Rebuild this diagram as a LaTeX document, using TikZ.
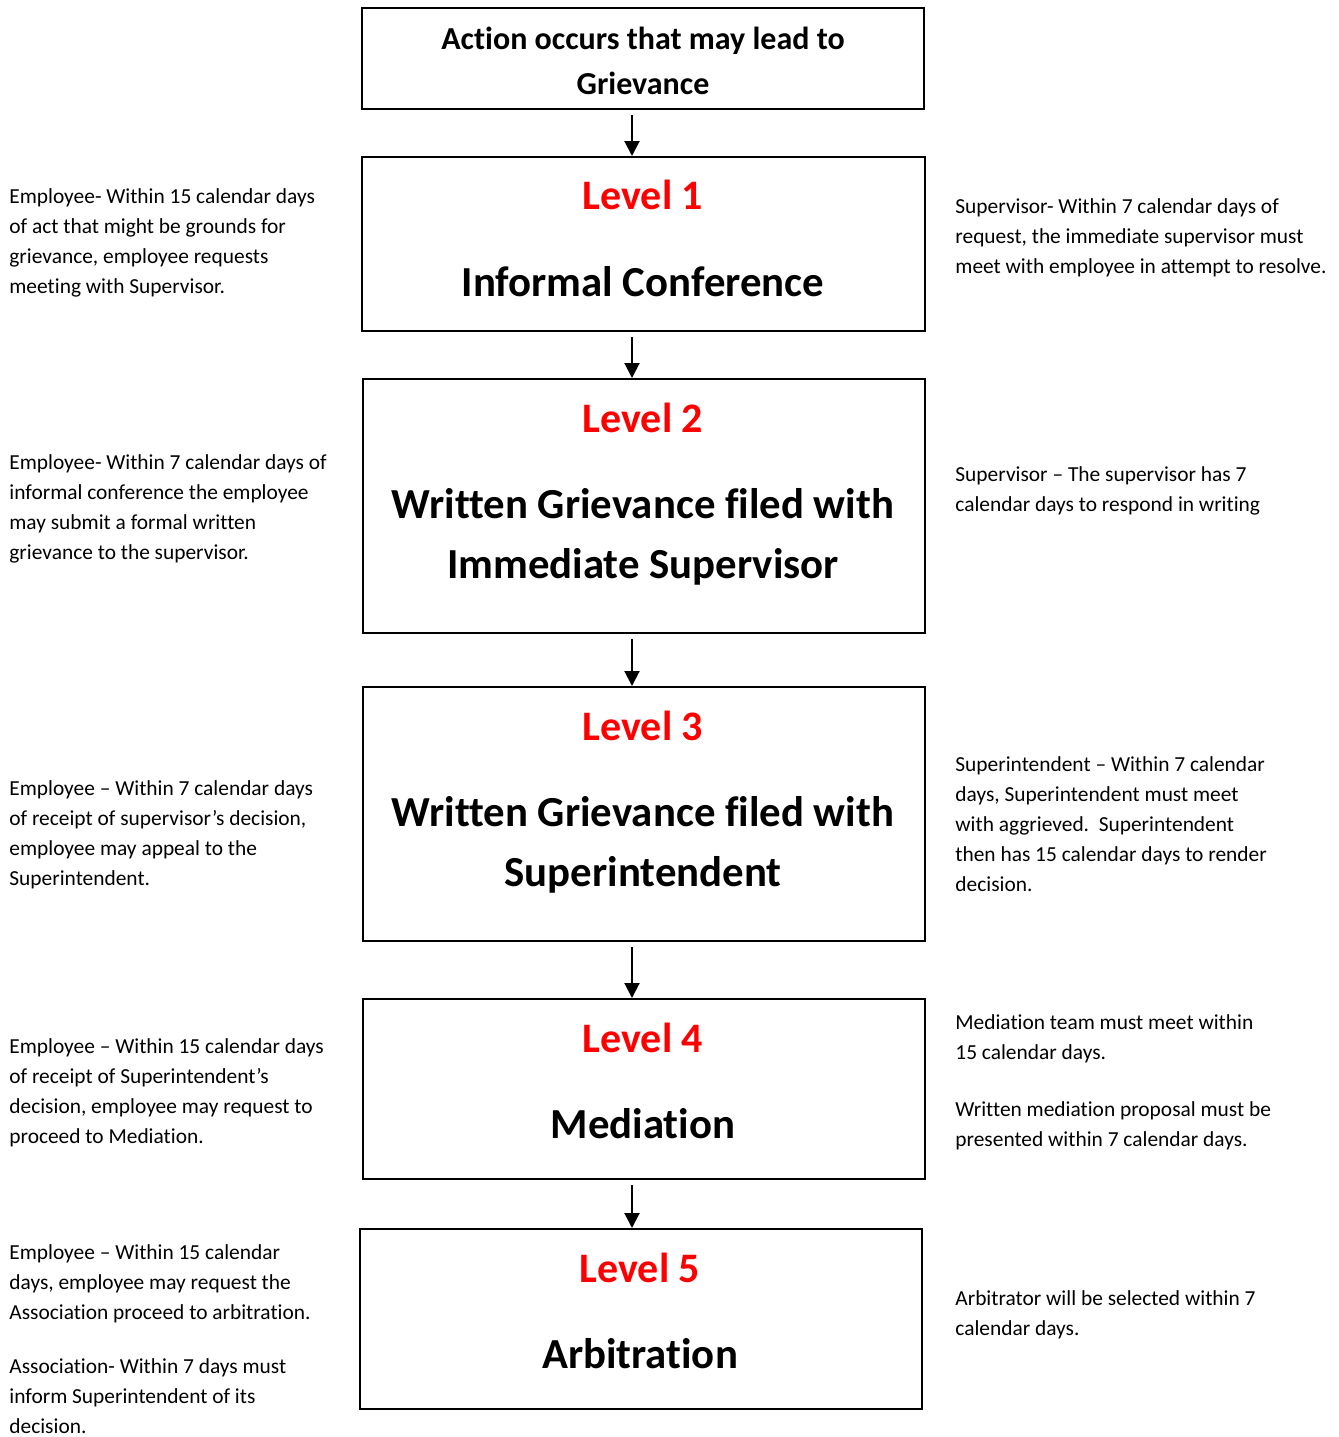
\documentclass[tikz,border=0pt]{standalone}
\usepackage{fontspec}
\setmainfont[Ligatures={NoCommon}]{Carlito}
\usetikzlibrary{arrows.meta}
\definecolor{lvlred}{RGB}{255,0,0}
\begin{document}
\begin{tikzpicture}[x=0.5pt,y=-0.5pt,
  box/.style={draw=black,line width=1pt,inner sep=0pt,rectangle},
  note/.style={inner sep=0pt,align=left,anchor=base west,font=\fontsize{10.7pt}{15pt}\selectfont},
  lvl/.style={inner sep=0pt,anchor=base,text=lvlred,font=\fontsize{21pt}{24pt}\selectfont\bfseries},
  big/.style={inner sep=0pt,anchor=base,font=\fontsize{21.4pt}{24pt}\selectfont\bfseries},
  top/.style={inner sep=0pt,anchor=base,font=\fontsize{16pt}{19pt}\selectfont\bfseries},
  arr/.style={line width=1pt,-{Triangle[length=7.5pt,width=7.5pt]},shorten <=2.5pt}]
\useasboundingbox (0,0) rectangle (1339,1437);
% boxes
\node[box,minimum width=281pt,minimum height=50.5pt] (b0) at (643,58.5) {};
\node[box,minimum width=281.5pt,minimum height=87pt] (b1) at (643.5,244) {};
\node[box,minimum width=281pt,minimum height=127pt] (b2) at (644,506) {};
\node[box,minimum width=281pt,minimum height=127pt] (b3) at (644,814) {};
\node[box,minimum width=281pt,minimum height=90pt] (b4) at (644,1089) {};
\node[box,minimum width=281pt,minimum height=90pt] (b5) at (641,1319) {};
% box texts
\node[top] (t0a) at (643,49) {Action occurs that may lead to};
\node[top] (t0b) at (643,94) {Grievance};
\node[lvl] (l1) at (643,209) {Level 1};
\node[big] (t1) at (643,296) {Informal Conference};
\node[lvl] (l2) at (643,432) {Level 2};
\node[big] (t2a) at (643,518) {Written Grievance filed with};
\node[big] (t2b) at (643,578) {Immediate Supervisor};
\node[lvl] (l3) at (643,740) {Level 3};
\node[big] (t3a) at (643,826) {Written Grievance filed with};
\node[big] (t3b) at (643,886) {Superintendent};
\node[lvl] (l4) at (643,1052) {Level 4};
\node[big] (t4) at (643,1138) {Mediation};
\node[lvl] (l5) at (640,1282) {Level 5};
\node[big] (t5) at (640,1368) {Arbitration};
% arrows
\coordinate (ax) at (632,0);
\draw[arr] (b0.south -| ax) -- (b1.north -| ax);
\draw[arr] (b1.south -| ax) -- (b2.north -| ax);
\draw[arr] (b2.south -| ax) -- (b3.north -| ax);
\draw[arr] (b3.south -| ax) -- (b4.north -| ax);
\draw[arr] (b4.south -| ax) -- (b5.north -| ax);
% left notes (anchor = baseline of last line)
\node[note] (n1) at (9,293) {Employee- Within 15 calendar days\\of act that might be grounds for\\grievance, employee requests\\meeting with Supervisor.};
\node[note] (n2) at (9,559) {Employee- Within 7 calendar days of\\informal conference the employee\\may submit a formal written\\grievance to the supervisor.};
\node[note] (n3) at (9,885) {Employee – Within 7 calendar days\\of receipt of supervisor’s decision,\\employee may appeal to the\\Superintendent.};
\node[note] (n4) at (9,1143) {Employee – Within 15 calendar days\\of receipt of Superintendent’s\\decision, employee may request to\\proceed to Mediation.};
\node[note] (n5a) at (9,1319) {Employee – Within 15 calendar\\days, employee may request the\\Association proceed to arbitration.};
\node[note] (n5b) at (9,1433) {Association- Within 7 days must\\inform Superintendent of its\\decision.};
% right notes
\node[note] (m1) at (955,273) {Supervisor- Within 7 calendar days of\\request, the immediate supervisor must\\meet with employee in attempt to resolve.};
\node[note] (m2) at (955,511) {Supervisor – The supervisor has 7\\calendar days to respond in writing};
\node[note] (m3) at (955,891) {Superintendent – Within 7 calendar\\days, Superintendent must meet\\with aggrieved.\ \ Superintendent\\then has 15 calendar days to render\\decision.};
\node[note] (m4a) at (955,1059) {Mediation team must meet within\\15 calendar days.};
\node[note] (m4b) at (955,1146) {Written mediation proposal must be\\presented within 7 calendar days.};
\node[note] (m5) at (955,1335) {Arbitrator will be selected within 7\\calendar days.};
\end{tikzpicture}
\end{document}
